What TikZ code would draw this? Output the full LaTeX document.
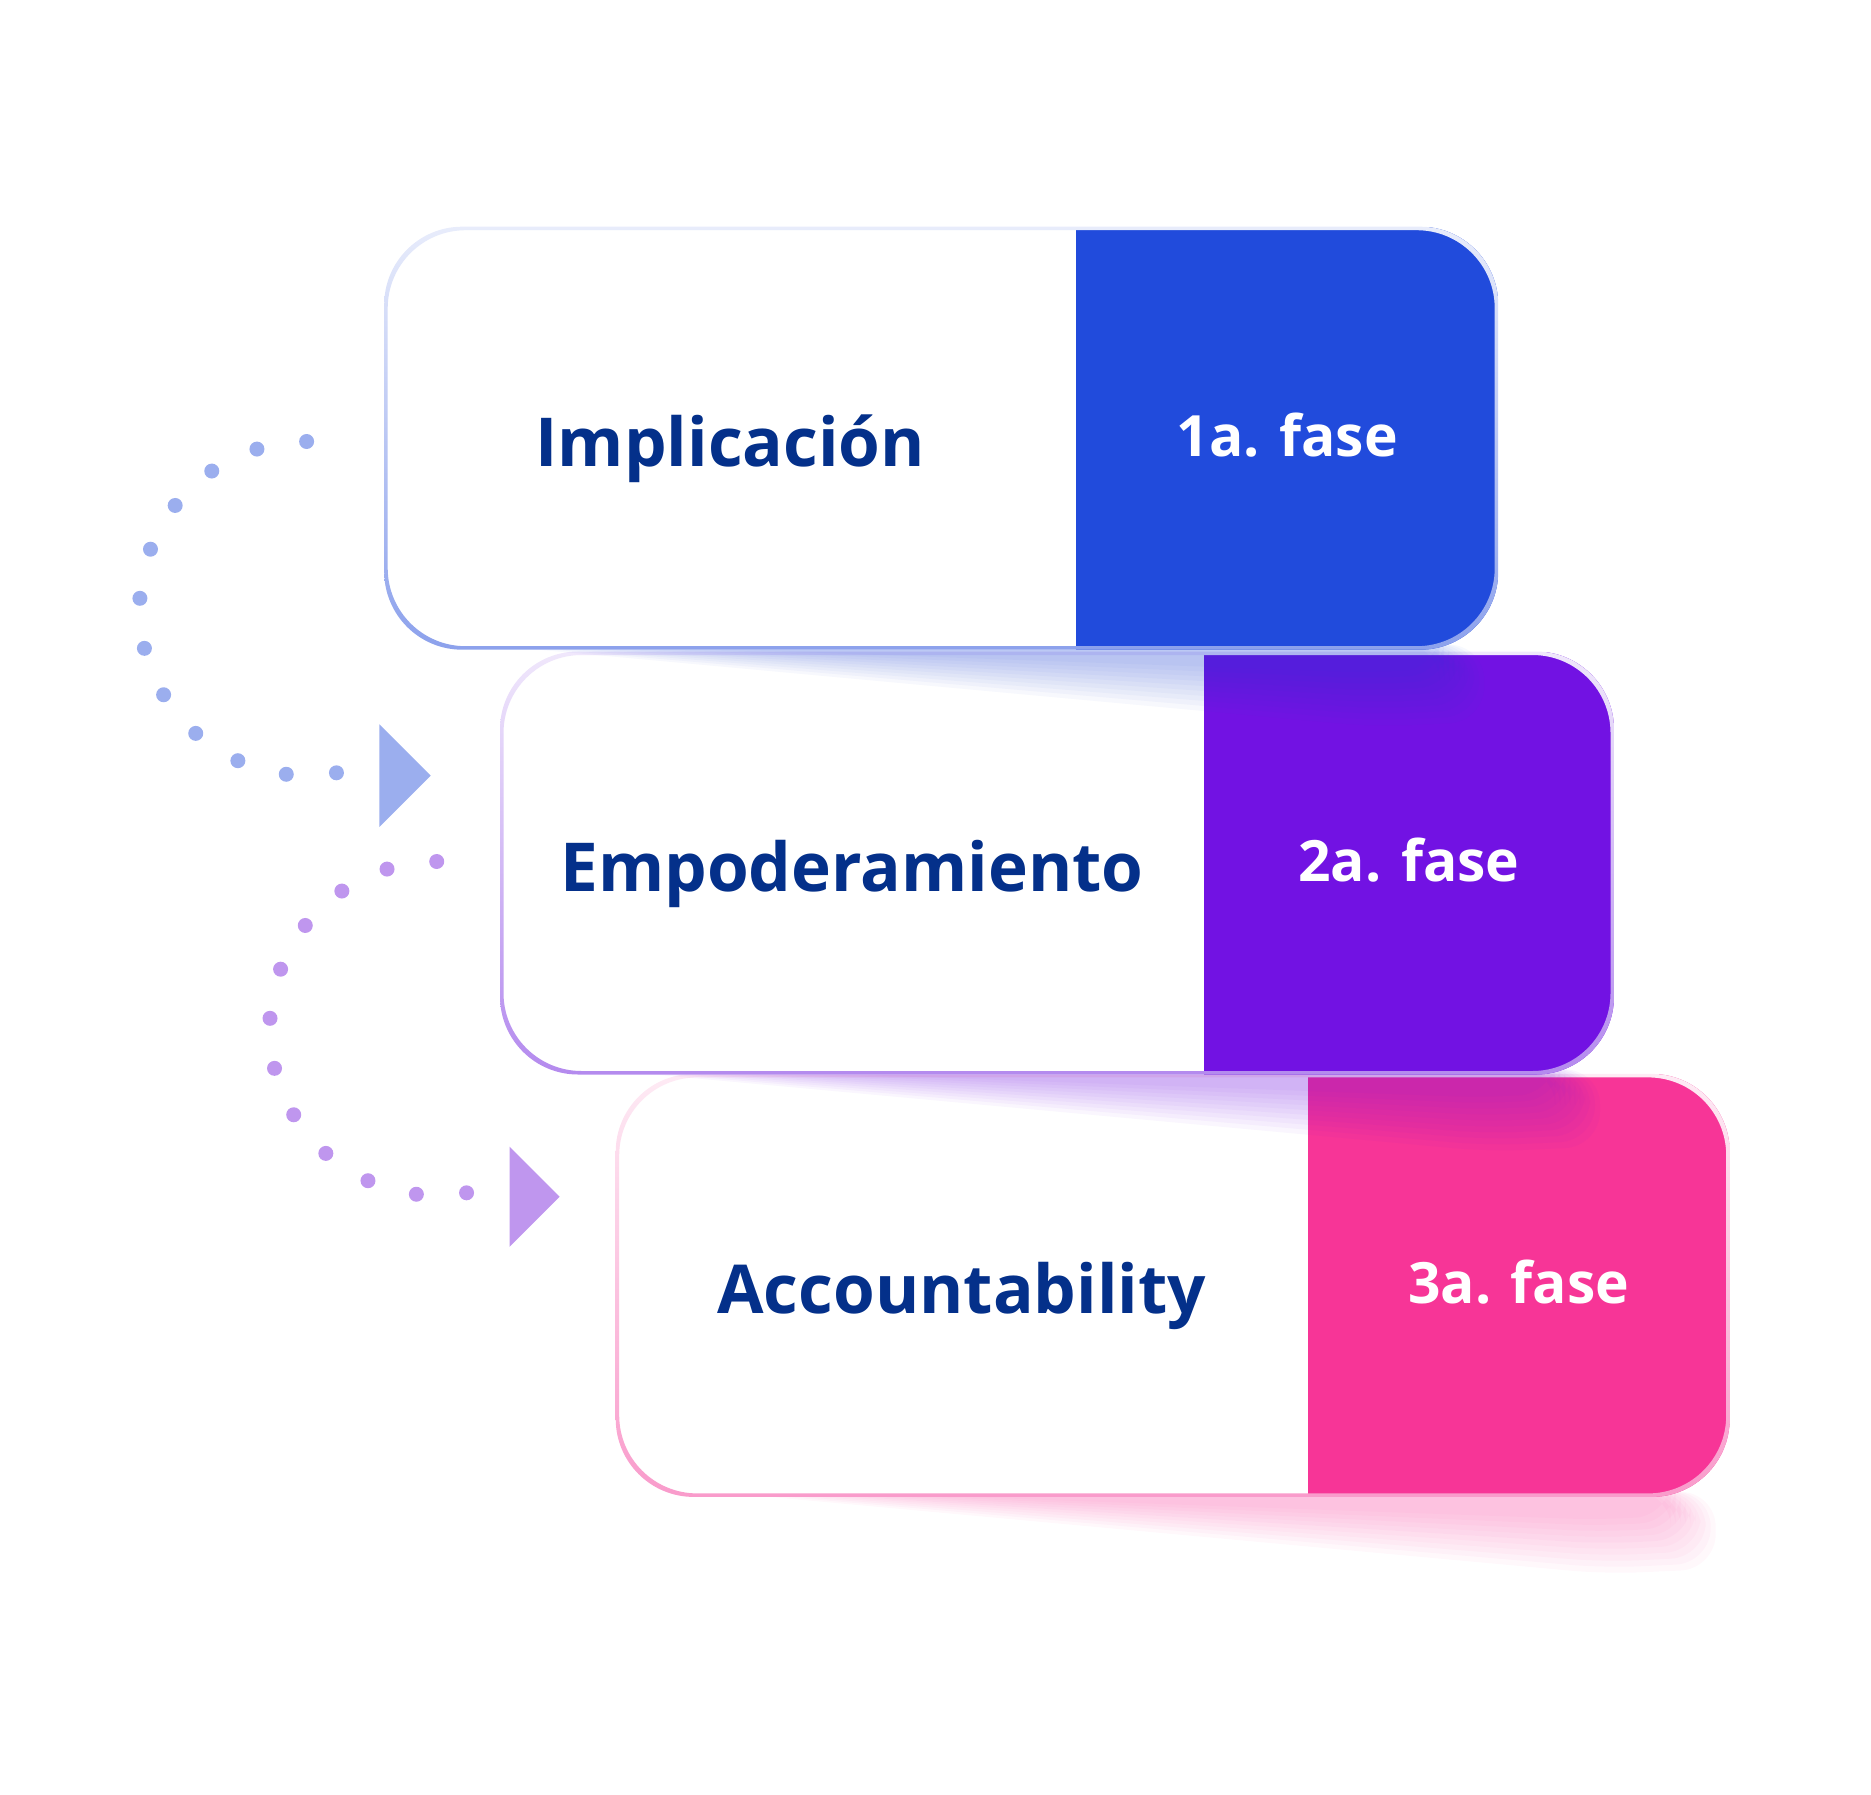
\documentclass[tikz,border=0pt]{standalone}
\usepackage{fontspec}
\setmainfont{Open Sans}
\usepackage{xcolor}
\usepackage{tikz}
\usetikzlibrary{positioning, calc}
\definecolor{phase-blue}{HTML}{214BDC}
\definecolor{phase-purple}{HTML}{7212E3}
\definecolor{phase-pink}{HTML}{F73597}
\definecolor{phase-navy}{HTML}{04308A}
\definecolor{ring-blue}{HTML}{8CA1EC}
\definecolor{ring-purple}{HTML}{B48AEE}
\definecolor{ring-pink}{HTML}{F99BCB}
\definecolor{dot-blue}{HTML}{9BAEEE}
\definecolor{dot-purple}{HTML}{BF96EE}

\tikzset{
    phase-label/.style={font=\bfseries\fontsize{19.2}{23}\selectfont, text=phase-navy},
    fase-label/.style={font=\bfseries\fontsize{16.2}{20}\selectfont, text=white},
}

\begin{document}
\begin{tikzpicture}
        \useasboundingbox (0,0) rectangle (18.71,17.94);
        % three phase cards, drawn bottom to top so each shadow falls on the card below
        \foreach \i/\x/\y/\s/\col/\ring/\txt/\fase in {
            3/6.157/7.201/6.92/phase-pink/ring-pink/Accountability/3a. fase,
            2/5.000/11.425/7.04/phase-purple/ring-purple/Empoderamiento/2a. fase,
            1/3.842/15.673/6.92/phase-blue/ring-blue/Implicación/1a. fase} {
            \foreach \k in {0,...,9} {
                \fill[\col, opacity=0.035, rounded corners=0.35cm]
                    ({\x+1.0+0.12*\k}, {\y-4.18}) -- ({\x+11.0-0.05*\k}, {\y-4.18})
                    -- ({\x+11.0-0.05*\k}, {\y-4.95+0.06*\k}) -- ({\x+9.9}, {\y-5.0+0.06*\k}) -- cycle;
            }
            \begin{scope}
                \clip[rounded corners=0.78cm] (\x,\y) rectangle ++(11.14,-4.23);
                \fill[white] (\x,\y) rectangle ++(\s,-4.23);
                \fill[\col] ({\x+\s},\y) rectangle ++({11.14-\s},-4.23);
            \end{scope}
            \shade[even odd rule, top color=\ring!20, bottom color=\ring, rounded corners=0.78cm]
                (\x,\y) rectangle ++(11.14,-4.23)
                ({\x+0.035},{\y-0.035}) rectangle ++(11.07,-4.16);
            \node[phase-label] (name\i) at ({\x+\s/2}, {\y-2.225}) {\txt};
            \node[fase-label] (fase\i) at ({\x+\s+(11.14-\s)/2}, {\y-2.085}) {\fase};
        }
        % dotted loops with their triangles
        \coordinate (arc1) at (3.066,11.855);
        \coordinate (arc2) at (4.367,7.655);
        \foreach \k in {0,...,11} {
            \fill[dot-blue] ([shift={({90+\k*17.3}:1.67)}]arc1) circle (0.075);
            \fill[dot-purple] ([shift={({90+\k*17.3}:1.67)}]arc2) circle (0.075);
        }
        \fill[dot-blue] (3.794,10.697) -- (3.794,9.671) -- (4.307,10.184) -- cycle;
        \fill[dot-purple] (5.095,6.473) -- (5.095,5.471) -- (5.596,5.972) -- cycle;
    \end{tikzpicture}
\end{document}
